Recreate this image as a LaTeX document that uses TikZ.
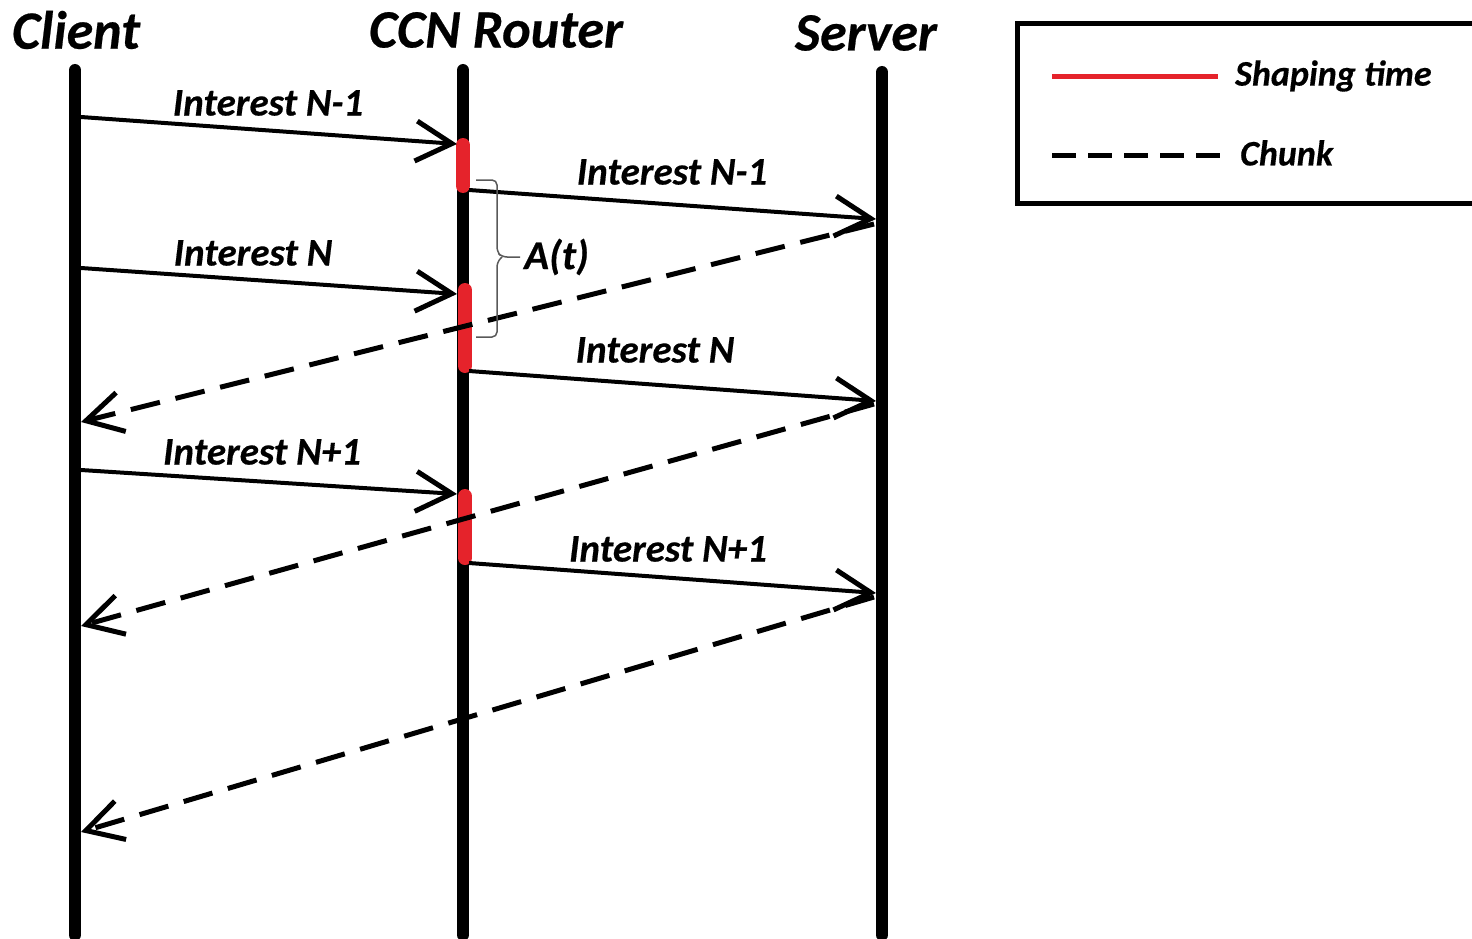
\documentclass[tikz,border=0pt]{standalone}
\usepackage{fontspec}
\setmainfont{Carlito}[BoldItalicFeatures={FakeBold=0.4}]
\usetikzlibrary{arrows.meta}
\definecolor{shapered}{HTML}{E5232B}
\tikzset{
  every node/.style={font=\bfseries\itshape, inner sep=0pt},
  title/.style={font=\fontsize{54}{58}\selectfont\bfseries\itshape},
  msglabel/.style={font=\fontsize{39}{42}\selectfont\bfseries\itshape},
  lifeline/.style={line width=12pt, line cap=round},
  interest/.style={line width=4pt, -{Straight Barb[length=36pt,width=40pt,line width=5pt]}},
  chunk/.style={line width=5pt, dash pattern=on 30pt off 16pt, -{Straight Barb[length=36pt,width=40pt,line width=5pt,sep=0pt]}},
  shaping/.style={line width=14pt, color=shapered, line cap=round},
  atbrace/.style={line width=1.5pt, gray!70!black}
}
\begin{document}
\begin{tikzpicture}[x=1pt,y=-1pt]
\useasboundingbox (0,0) rectangle (1472,939);

% lifelines
\coordinate (cTop) at (75,70);   \coordinate (cBot) at (75,935);
\coordinate (rTop) at (463,70);  \coordinate (rBot) at (463,935);
\coordinate (sTop) at (882,72);  \coordinate (sBot) at (882,935);
\draw[lifeline] (cTop) -- (cBot);
\draw[lifeline] (rTop) -- (rBot);
\draw[lifeline] (sTop) -- (sBot);

% headings
\node[title] (client) at (76,30) {Client};
\node[title] (router) at (496,30) {CCN Router};
\node[title] (server) at (866,33) {Server};

% shaping intervals at the router
\coordinate (sh1a) at (463,145); \coordinate (sh1b) at (463,186);
\coordinate (sh2a) at (465,290); \coordinate (sh2b) at (465,366);
\coordinate (sh3a) at (465,496); \coordinate (sh3b) at (465,558);
\draw[shaping] (sh1a) -- (sh1b);
\draw[shaping] (sh2a) -- (sh2b);
\draw[shaping] (sh3a) -- (sh3b);

% interests: client -> router
\coordinate (ci1) at (81,117);  \coordinate (ri1) at (457,144);
\coordinate (ci2) at (81,268);  \coordinate (ri2) at (457,294);
\coordinate (ci3) at (81,470);  \coordinate (ri3) at (457,494);
\draw[interest] (ci1) -- (ri1);
\draw[interest] (ci2) -- (ri2);
\draw[interest] (ci3) -- (ri3);
\node[msglabel] (l1) at (268,103) {Interest N-1};
\node[msglabel] (l2) at (253,253) {Interest N};
\node[msglabel] (l3) at (262,452) {Interest N+1};

% interests: router -> server
\coordinate (ro1) at (469,190); \coordinate (so1) at (876,219);
\coordinate (ro2) at (469,371); \coordinate (so2) at (876,401);
\coordinate (ro3) at (469,563); \coordinate (so3) at (876,593);
\draw[interest] (ro1) -- (so1);
\draw[interest] (ro2) -- (so2);
\draw[interest] (ro3) -- (so3);
\node[msglabel] (l4) at (672,172) {Interest N-1};
\node[msglabel] (l5) at (655,350) {Interest N};
\node[msglabel] (l6) at (668,549) {Interest N+1};

% chunks: server -> client
\coordinate (sc1) at (874,224); \coordinate (cc1) at (81,422);
\coordinate (sc2) at (874,404); \coordinate (cc2) at (81,626);
\coordinate (sc3) at (874,597); \coordinate (cc3) at (81,832);
\draw[chunk] (sc1) -- (cc1);
\draw[chunk] (sc2) -- (cc2);
\draw[chunk] (sc3) -- (cc3);

% A(t) bracket between the shaping intervals
\coordinate (bt) at (476,180);
\coordinate (bb) at (476,337);
\coordinate (btip) at (520,257);
\draw[atbrace, rounded corners=5pt] (bt) -- (497,180) -- (497,252) -- (502,257) -- (btip);
\draw[atbrace, rounded corners=5pt] (bb) -- (497,337) -- (497,262) -- (502,257);
\node[msglabel, anchor=west, font=\fontsize{41}{44}\selectfont\bfseries\itshape] (at) at (524,257) {A(t)};

% legend
\node[draw, line width=5pt, minimum width=460pt, minimum height=180pt, anchor=north west] (legend) at (1015,21) {};
\coordinate (lr1) at (1052,77);  \coordinate (lr2) at (1218,77);
\coordinate (ld1) at (1052,155); \coordinate (ld2) at (1222,155);
\draw[line width=5pt, shapered] (lr1) -- (lr2);
\draw[line width=5pt, dash pattern=on 24pt off 12pt] (ld1) -- (ld2);
\node[msglabel, anchor=west, font=\fontsize{36}{40}\selectfont\bfseries\itshape] (lshape) at (1235,76) {Shaping time};
\node[msglabel, anchor=west, font=\fontsize{36}{40}\selectfont\bfseries\itshape] (lchunk) at (1240,153) {Chunk};
\end{tikzpicture}
\end{document}
